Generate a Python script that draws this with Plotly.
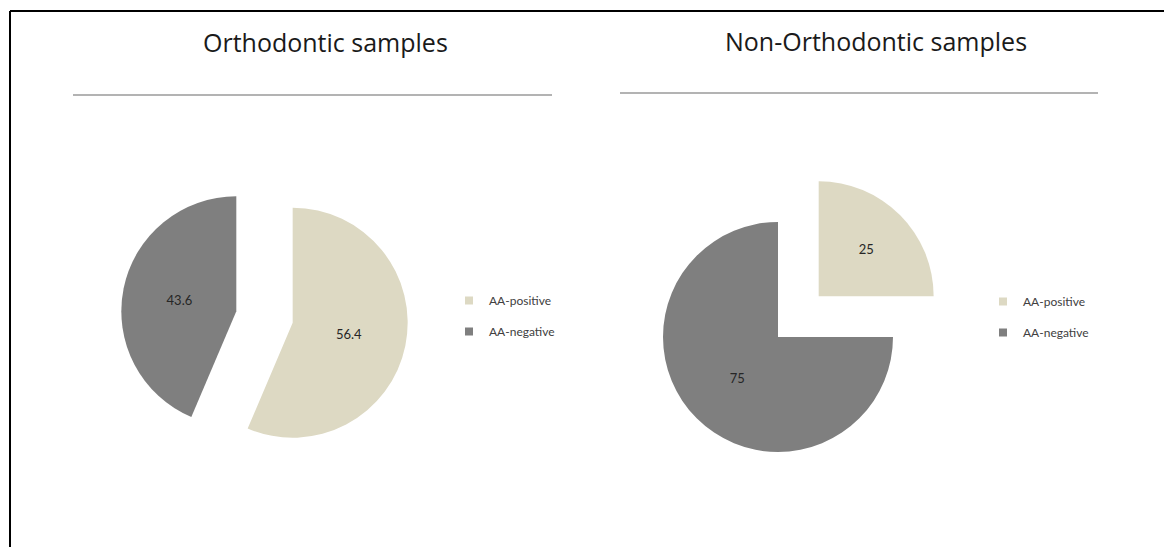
import plotly.graph_objects as go

labels = ["AA-positive", "AA-negative"]
ortho_values = [56.4, 43.6]
non_ortho_values = [25, 75]
ortho_title = "Orthodontic samples"
non_ortho_title = "Non-Orthodontic samples"

colors = ["#DDD9C3", "#7F7F7F"]
W, H = 1164, 547

def px_x(x):
    return x / W

def px_y(y):
    return 1 - y / H

fig = go.Figure()

fig.add_trace(go.Pie(
    labels=labels, values=ortho_values, sort=False, direction="clockwise",
    rotation=0, pull=[0.25, 0.25],
    marker=dict(colors=colors, line=dict(width=0)),
    textinfo="value", textposition="inside", insidetextorientation="horizontal",
    textfont=dict(family="Lato", size=13, color="#262626"),
    domain=dict(x=[px_x(120.75), px_x(408.25)], y=[px_y(460.75), px_y(173.25)]),
    showlegend=False, hoverinfo="label+value",
))

fig.add_trace(go.Pie(
    labels=labels, values=non_ortho_values, sort=False, direction="clockwise",
    rotation=0, pull=[0.5, 0],
    marker=dict(colors=colors, line=dict(width=0)),
    textinfo="value", textposition="inside", insidetextorientation="horizontal",
    textfont=dict(family="Lato", size=13, color="#262626"),
    domain=dict(x=[px_x(605.5), px_x(950.5)], y=[px_y(509.5), px_y(164.5)]),
    showlegend=False, hoverinfo="label+value",
))

# legend entries (one legend per pie)
for leg in ["legend", "legend2"]:
    for lab, col in zip(labels, colors):
        fig.add_trace(go.Scatter(
            x=[None], y=[None], mode="markers", name=lab,
            marker=dict(symbol="square", size=8, color=col),
            legend=leg, legendgroup=leg + lab, showlegend=True, hoverinfo="skip",
        ))

legend_common = dict(font=dict(family="Lato", size=12, color="#404040"),
                     bgcolor="rgba(0,0,0,0)", xanchor="left", yanchor="middle",
                     traceorder="grouped", tracegroupgap=12, itemwidth=30)

shapes = [
    dict(type="line", xref="paper", yref="paper", x0=px_x(10), x1=1, y0=px_y(11), y1=px_y(11),
         line=dict(color="#000000", width=2)),
    dict(type="line", xref="paper", yref="paper", x0=px_x(10), x1=px_x(10), y0=px_y(11), y1=0,
         line=dict(color="#000000", width=2)),
    dict(type="line", xref="paper", yref="paper", x0=px_x(73), x1=px_x(552), y0=px_y(95), y1=px_y(95),
         line=dict(color="#9A9A9A", width=1.5)),
    dict(type="line", xref="paper", yref="paper", x0=px_x(620), x1=px_x(1098), y0=px_y(93), y1=px_y(93),
         line=dict(color="#9A9A9A", width=1.5)),
]

annotations = [
    dict(text=ortho_title, x=px_x(325), y=px_y(42), xref="paper", yref="paper",
         showarrow=False, xanchor="center", yanchor="middle",
         font=dict(family="Open Sans", size=25, color="#1a1a1a")),
    dict(text=non_ortho_title, x=px_x(876), y=px_y(41), xref="paper", yref="paper",
         showarrow=False, xanchor="center", yanchor="middle",
         font=dict(family="Open Sans", size=25, color="#1a1a1a")),
]

fig.update_layout(
    width=W, height=H,
    margin=dict(l=0, r=0, t=0, b=0),
    paper_bgcolor="white", plot_bgcolor="rgba(0,0,0,0)",
    showlegend=True,
    xaxis=dict(visible=False), yaxis=dict(visible=False),
    legend=dict(x=px_x(449), y=px_y(316), **legend_common),
    legend2=dict(x=px_x(983), y=px_y(317), **legend_common),
    shapes=shapes,
    annotations=annotations,
)

fig.write_html("out.html")
